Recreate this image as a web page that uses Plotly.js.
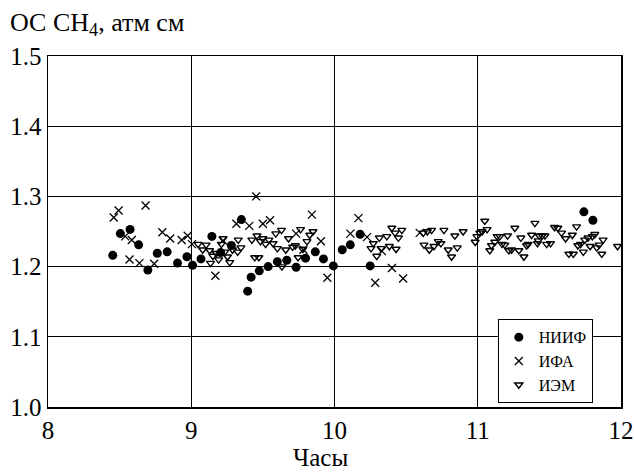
<!DOCTYPE html>
<html>
<head>
<meta charset="utf-8">
<script src="https://cdn.plot.ly/plotly-3.0.1.min.js"></script>
<style>body{margin:0;background:#fff}#chart{width:634px;height:472px}</style>
</head>
<body>
<div id="chart"></div>
<script>
// НИИФ (filled circles)
const niifX = [8.452,8.505,8.573,8.633,8.697,8.763,8.832,8.904,8.970,9.009,9.068,9.144,9.205,9.280,9.350,9.394,9.418,9.475,9.537,9.601,9.667,9.732,9.798,9.866,9.923,9.992,10.054,10.110,10.179,10.249,11.741,11.804];
const niifY = [1.216,1.247,1.253,1.231,1.195,1.219,1.221,1.205,1.214,1.202,1.211,1.243,1.220,1.230,1.267,1.165,1.185,1.194,1.200,1.207,1.209,1.199,1.212,1.221,1.211,1.201,1.224,1.231,1.246,1.201,1.278,1.266];
// ИФА (crosses)
const ifaX = [8.459,8.493,8.539,8.585,8.569,8.638,8.681,8.741,8.798,8.853,8.933,8.975,9.005,9.168,9.222,9.315,9.405,9.453,9.500,9.550,9.732,9.783,9.842,9.905,9.950,10.111,10.167,10.227,10.284,10.331,10.401,10.479,10.595];
const ifaY = [1.270,1.280,1.243,1.238,1.210,1.205,1.287,1.204,1.249,1.240,1.238,1.244,1.232,1.187,1.237,1.261,1.258,1.300,1.261,1.266,1.247,1.224,1.274,1.236,1.184,1.247,1.269,1.242,1.177,1.222,1.198,1.183,1.248];
// ИЭМ (open down triangles)
const iemX = [9.048,9.080,9.104,9.128,9.135,9.151,9.175,9.191,9.210,9.222,9.234,9.253,9.269,9.288,9.324,9.328,9.347,9.423,9.443,9.459,9.472,9.483,9.500,9.519,9.542,9.571,9.590,9.601,9.630,9.633,9.660,9.679,9.708,9.727,9.746,9.763,9.779,9.808,9.827,9.850,
 10.255,10.271,10.295,10.313,10.325,10.365,10.383,10.400,10.423,10.430,10.446,10.470,10.620,10.625,10.648,10.662,10.678,10.694,10.724,10.743,10.764,10.794,10.817,10.840,10.857,10.898,10.982,10.994,
 11.014,11.030,11.049,11.065,11.084,11.096,11.119,11.135,11.154,11.170,11.189,11.208,11.217,11.236,11.259,11.287,11.301,11.322,11.341,11.352,11.376,11.399,11.417,11.422,11.429,11.450,11.469,11.481,11.508,11.536,11.559,11.585,11.613,11.636,11.660,11.667,11.690,11.699,11.718,11.737,11.747,11.770,11.784,11.800,11.817,11.831,11.847,11.866,11.875,11.976];
const iemY = [1.232,1.224,1.231,1.223,1.205,1.215,1.219,1.210,1.232,1.240,1.221,1.214,1.206,1.224,1.221,1.238,1.227,1.238,1.213,1.244,1.213,1.236,1.240,1.232,1.238,1.233,1.247,1.226,1.252,1.200,1.224,1.240,1.228,1.230,1.213,1.253,1.225,1.236,1.245,1.250,
 1.226,1.233,1.215,1.241,1.226,1.243,1.229,1.255,1.248,1.225,1.241,1.252,1.248,1.231,1.250,1.224,1.252,1.229,1.236,1.233,1.252,1.224,1.214,1.244,1.227,1.250,1.235,1.243,
 1.248,1.250,1.265,1.253,1.223,1.230,1.235,1.243,1.243,1.232,1.231,1.244,1.223,1.224,1.255,1.223,1.241,1.214,1.230,1.232,1.245,1.262,1.233,1.237,1.244,1.244,1.244,1.232,1.233,1.256,1.255,1.248,1.240,1.218,1.245,1.218,1.257,1.230,1.232,1.221,1.238,1.241,1.229,1.243,1.246,1.227,1.231,1.218,1.238,1.229];

const seriesNames = ['НИИФ','ИФА','ИЭМ'];
const xTicks = [8,9,10,11,12];
const yTicks = [1.0,1.1,1.2,1.3,1.4,1.5];

const FONT = 'Liberation Serif, serif';

const traces = [
  {x: niifX, y: niifY, name: seriesNames[0], type: 'scatter', mode: 'markers',
   marker: {symbol: 'circle', size: 9, color: '#000'}},
  {x: ifaX, y: ifaY, name: seriesNames[1], type: 'scatter', mode: 'markers',
   marker: {symbol: 'x-thin-open', size: 8, color: '#000', line: {color: '#000', width: 1.3}}},
  {x: iemX, y: iemY, name: seriesNames[2], type: 'scatter', mode: 'markers',
   marker: {symbol: 'triangle-down-open', size: 7, color: '#000', line: {color: '#000', width: 1.4}}}
];

const layout = {
  width: 634, height: 472,
  margin: {l: 48, r: 13, t: 56, b: 65},
  paper_bgcolor: '#fff', plot_bgcolor: '#fff',
  font: {family: FONT, color: '#000', size: 25},
  showlegend: true,
  legend: {
    x: 0.785, y: 0.25, xanchor: 'left', yanchor: 'top',
    bgcolor: '#fff', bordercolor: '#000', borderwidth: 1,
    font: {family: FONT, size: 16, color: '#000'},
    itemwidth: 30, tracegroupgap: 0
  },
  xaxis: {
    range: [8, 12], tickvals: xTicks, ticktext: xTicks.map(String),
    showgrid: true, gridcolor: '#000', gridwidth: 1,
    showline: true, linecolor: '#000', linewidth: 1.5, mirror: true,
    zeroline: false, ticks: '',
    tickfont: {family: FONT, size: 25, color: '#000'}
  },
  yaxis: {
    range: [1.0, 1.5], tickvals: yTicks, ticktext: yTicks.map(v => v.toFixed(1)),
    showgrid: true, gridcolor: '#000', gridwidth: 1,
    showline: true, linecolor: '#000', linewidth: 1.5, mirror: true,
    zeroline: false, ticks: '',
    tickfont: {family: FONT, size: 25, color: '#000'}
  },
  annotations: [
    {text: 'ОС CH<sub>4</sub>, атм см', xref: 'paper', yref: 'paper',
     x: -0.07, y: 1.092, xanchor: 'left', yanchor: 'middle', showarrow: false,
     font: {family: FONT, size: 26, color: '#000'}},
    {text: 'Часы', xref: 'paper', yref: 'paper',
     x: 0.475, y: -0.145, xanchor: 'center', yanchor: 'middle', showarrow: false,
     font: {family: FONT, size: 25, color: '#000'}}
  ]
};

Plotly.newPlot('chart', traces, layout, {displayModeBar: false, staticPlot: true});
</script>
</body>
</html>
